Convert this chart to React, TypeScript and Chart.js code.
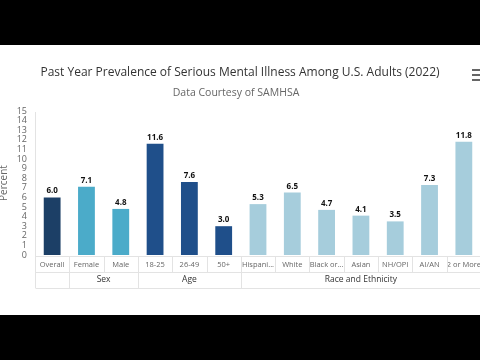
import React, { useEffect, useRef } from "react";
import { Chart, registerables } from "chart.js";

Chart.register(...registerables);

const TITLE = "Past Year Prevalence of Serious Mental Illness Among U.S. Adults (2022)";
const SUBTITLE = "Data Courtesy of SAMHSA";
const Y_TITLE = "Percent";

const categories = [
  "Overall", "Female", "Male", "18-25", "26-49", "50+",
  "Hispani...", "White", "Black or...", "Asian", "NH/OPI", "AI/AN", "2 or More",
];
const values = [6.0, 7.1, 4.8, 11.6, 7.6, 3.0, 5.3, 6.5, 4.7, 4.1, 3.5, 7.3, 11.8];
const groupNames = ["", "Sex", "Age", "Race and Ethnicity"];
const groupSizes = [1, 2, 3, 7];
const groupColors = ["#1c3f66", "#4babc9", "#1f4f8a", "#a6cddc"];
const yTicksMin = 0;
const yTicksMax = 15;

const barColors: string[] = [];
groupSizes.forEach((n, gi) => {
  for (let i = 0; i < n; i++) barColors.push(groupColors[gi]);
});

const FONT = '"Open Sans", "DejaVu Sans", sans-serif';

const decorPlugin = {
  id: "decor",
  afterDraw(chart: any) {
    const ctx = chart.ctx;
    const area = chart.chartArea;
    const xs = chart.scales.x;
    const n = categories.length;
    const cw = (xs.right - xs.left) / n;
    ctx.save();
    // title + subtitle
    ctx.textAlign = "center";
    ctx.textBaseline = "middle";
    ctx.fillStyle = "#333333";
    ctx.font = `12px ${FONT}`;
    ctx.fillText(TITLE, 240, 28);
    ctx.fillStyle = "#666666";
    ctx.font = `10.5px ${FONT}`;
    ctx.fillText(SUBTITLE, 236, 48);
    // hamburger
    ctx.fillStyle = "#666666";
    [25, 30, 35].forEach((y) => ctx.fillRect(472, y - 1, 10, 2));

    // table lines
    const y0 = area.bottom + 1;
    const y1 = y0 + 16;
    const y2 = y1 + 16;
    ctx.strokeStyle = "#e3e3e3";
    ctx.lineWidth = 1;
    const line = (ax: number, ay: number, bx: number, by: number) => {
      ctx.beginPath();
      ctx.moveTo(ax, ay);
      ctx.lineTo(bx, by);
      ctx.stroke();
    };
    const L = Math.round(xs.left) + 0.5;
    line(L, area.top + 1, L, y2);
    [y0, y1, y2].forEach((y) => line(L, Math.round(y) + 0.5, xs.right + 20, Math.round(y) + 0.5));
    for (let i = 1; i <= n; i++) {
      const x = Math.round(xs.left + i * cw) + 0.5;
      line(x, y0, x, y1);
    }
    let acc = 0;
    ctx.fillStyle = "#333333";
    ctx.font = `8.5px ${FONT}`;
    groupSizes.forEach((g, gi) => {
      const a = xs.left + acc * cw;
      acc += g;
      const b = xs.left + acc * cw;
      const x = Math.round(b) + 0.5;
      line(x, y1, x, y2);
      if (groupNames[gi]) ctx.fillText(groupNames[gi], (a + b) / 2, (y1 + y2) / 2);
    });

    // data labels
    const meta = chart.getDatasetMeta(0);
    ctx.fillStyle = "#111111";
    ctx.font = `bold 8px ${FONT}`;
    ctx.textBaseline = "alphabetic";
    meta.data.forEach((bar: any, i: number) => {
      ctx.fillText(values[i].toFixed(1), bar.x, bar.y - 4);
    });
    ctx.restore();
  },
};

export default function App() {
  const ref = useRef<HTMLCanvasElement>(null);
  useEffect(() => {
    if (!ref.current) return;
    const chart = new Chart(ref.current, {
      type: "bar",
      data: {
        labels: categories,
        datasets: [
          {
            data: values,
            backgroundColor: barColors,
            barPercentage: 0.49,
            categoryPercentage: 1,
          },
        ],
      },
      options: {
        responsive: false,
        animation: false,
        devicePixelRatio: 1,
        layout: { padding: { top: 66, bottom: 27, left: 0, right: 19 } },
        plugins: {
          legend: { display: false },
          tooltip: { enabled: false },
          title: { display: false },
        },
        scales: {
          x: {
            grid: { display: false, drawTicks: false },
            border: { display: false },
            ticks: {
              autoSkip: false,
              maxRotation: 0,
              minRotation: 0,
              padding: 5,
              color: "#666666",
              font: { family: FONT, size: 7.5 },
            },
            afterFit: (s: any) => {
              s.height = 33;
            },
          },
          y: {
            min: yTicksMin,
            max: yTicksMax,
            grid: { display: false, drawTicks: false },
            border: { display: false },
            ticks: {
              stepSize: 1,
              autoSkip: false,
              padding: 8,
              color: "#666666",
              font: { family: FONT, size: 9 },
            },
            title: {
              display: true,
              text: Y_TITLE,
              color: "#666666",
              padding: 0,
              font: { family: FONT, size: 10, lineHeight: 0.9 },
            },
            afterFit: (s: any) => {
              s.width = 35;
            },
          },
        },
      },
      plugins: [decorPlugin],
    });
    return () => chart.destroy();
  }, []);
  return (
    <div
      style={{
        position: "fixed",
        left: 0,
        top: 0,
        width: 480,
        height: 360,
        background: "#000",
        overflow: "hidden",
      }}
    >
      <div
        style={{
          position: "absolute",
          left: 0,
          top: 45,
          width: 480,
          height: 270,
          background: "#fff",
          overflow: "hidden",
        }}
      >
        <canvas
          ref={ref}
          width={500}
          height={270}
          style={{ position: "absolute", left: 0, top: 0, width: 500, height: 270 }}
        />
      </div>
    </div>
  );
}
